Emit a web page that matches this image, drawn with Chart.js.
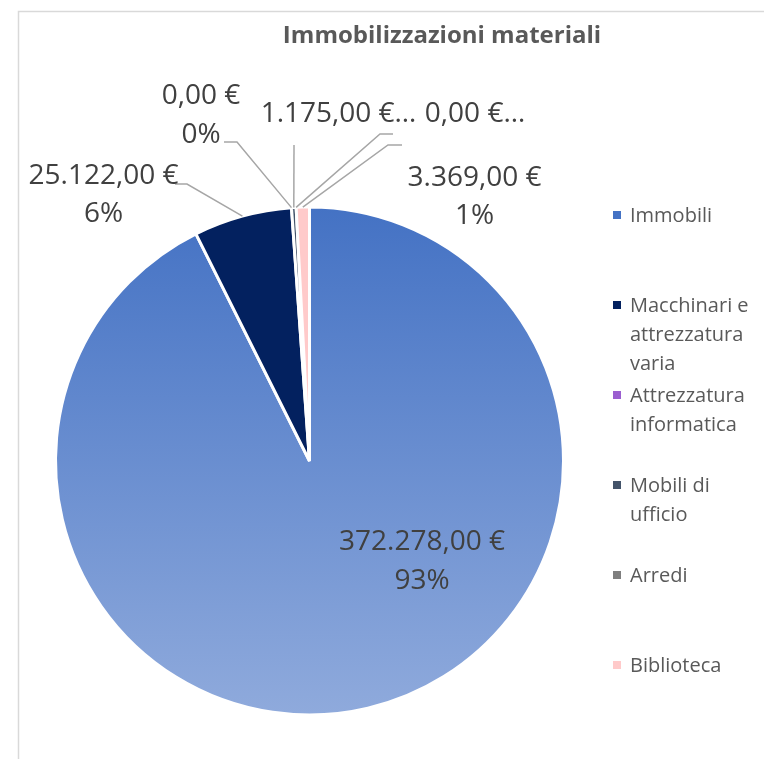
<!DOCTYPE html>
<html lang="it">
<head>
<meta charset="utf-8">
<title>Immobilizzazioni materiali</title>
<script src="https://cdn.jsdelivr.net/npm/chart.js@4.4.1/dist/chart.umd.min.js"></script>
<style>
  html, body { margin: 0; padding: 0; background: #fff; }
  #wrap { position: relative; width: 764px; height: 759px; }
</style>
</head>
<body>
<div id="wrap"><canvas id="grafico"></canvas></div>
<script>
// Dati del grafico
const titolo = 'Immobilizzazioni materiali';
const categorie = ['Immobili', 'Macchinari e attrezzatura varia', 'Attrezzatura informatica', 'Mobili di ufficio', 'Arredi', 'Biblioteca'];
const valori = [372278, 25122, 0, 1175, 0, 3369];
const colori = ['#4472C4', '#03215F', '#9B5FD0', '#44546A', '#7F7F7F', '#FFCACA'];

// Posizione delle etichette (offset dal centro della torta) e linee guida
const posEtichette = [
    { x: 112.5, y: [89, 128], guida: null },
    { x: -206, y: [-277, -239], guida: [[-134.5, -277], [-122.5, -277]] },
    { x: -108.5, y: [-357, -318], guida: [[-85.5, -319], [-72.5, -319]] },
    { x: 29, y: [-339], guida: [[-15.5, -316]], tronca: true },
    { x: 165.5, y: [-339], guida: [[83.5, -327], [70.5, -327]], tronca: true },
    { x: 165, y: [-275, -237], guida: [[92.5, -316], [78.5, -316]] }
];

const totale = valori.reduce((a, b) => a + b, 0);

// Formatta il numero all'italiana: 372.278,00 €
function euro(v) {
    const parti = v.toFixed(2).split('.');
    return parti[0].replace(/\B(?=(\d{3})+(?!\d))/g, '.') + ',' + parti[1] + ' €';
}

function percentuale(v) {
    return Math.round(v / totale * 100) + '%';
}

// Spezza il testo della legenda su più righe
function aCapo(ctx, testo, larghezza) {
    const parole = testo.split(' ');
    const righe = [];
    let riga = '';
    parole.forEach(p => {
        const prova = riga ? riga + ' ' + p : p;
        if (riga && ctx.measureText(prova).width > larghezza) {
            righe.push(riga);
            riga = p;
        } else {
            riga = prova;
        }
    });
    if (riga) righe.push(riga);
    return righe;
}

// Plugin per cornice, titolo, etichette e legenda
const decorazioni = {
    id: 'decorazioni',
    beforeDraw(chart) {
        const ctx = chart.ctx;
        ctx.save();
        ctx.strokeStyle = '#D9D9D9';
        ctx.lineWidth = 1.5;
        ctx.beginPath();
        ctx.moveTo(18.5, 759);
        ctx.lineTo(18.5, 11.5);
        ctx.lineTo(764, 11.5);
        ctx.stroke();
        ctx.restore();
    },
    afterDraw(chart) {
        const ctx = chart.ctx;
        const meta = chart.getDatasetMeta(0);
        ctx.save();

        // Titolo
        ctx.fillStyle = '#595959';
        ctx.font = 'bold 24px "Open Sans"';
        ctx.textAlign = 'center';
        ctx.textBaseline = 'alphabetic';
        ctx.fillText(titolo, 442, 43);

        // Etichette dati
        meta.data.forEach((arco, i) => {
            const p = arco.getProps(['x', 'y', 'startAngle', 'endAngle', 'outerRadius'], true);
            const pos = posEtichette[i];
            const cx = p.x, cy = p.y;
            if (pos.guida) {
                const medio = (p.startAngle + p.endAngle) / 2;
                ctx.strokeStyle = '#A6A6A6';
                ctx.lineWidth = 1.5;
                ctx.beginPath();
                pos.guida.forEach((pt, k) => {
                    if (k === 0) ctx.moveTo(cx + pt[0], cy + pt[1]);
                    else ctx.lineTo(cx + pt[0], cy + pt[1]);
                });
                ctx.lineTo(cx + Math.cos(medio) * p.outerRadius, cy + Math.sin(medio) * p.outerRadius);
                ctx.stroke();
            }
            let righe = [euro(valori[i]), percentuale(valori[i])];
            if (pos.tronca) righe = [righe[0] + '…'];
            ctx.fillStyle = '#404040';
            ctx.font = '28px "Open Sans"';
            ctx.textAlign = 'center';
            righe.forEach((t, k) => ctx.fillText(t, cx + pos.x, cy + pos.y[k]));
        });

        // Legenda
        ctx.font = '20px "Open Sans"';
        ctx.textAlign = 'left';
        categorie.forEach((nome, i) => {
            const y0 = 215 + i * 90;
            ctx.fillStyle = colori[i];
            ctx.fillRect(613, y0 - 4, 8, 8);
            ctx.fillStyle = '#595959';
            aCapo(ctx, nome, 128).forEach((r, k) => {
                ctx.fillText(r, 630, y0 + 7 + k * 29);
            });
        });
        ctx.restore();
    }
};

// Sfumatura per la fetta principale
function sfondo(context) {
    const i = context.dataIndex;
    const chart = context.chart;
    if (i !== 0 || !chart.chartArea) return colori[i];
    const area = chart.chartArea;
    const cy = (area.top + area.bottom) / 2;
    const g = chart.ctx.createLinearGradient(0, cy - 253, 0, cy + 253);
    g.addColorStop(0, '#4472C4');
    g.addColorStop(1, '#8FAADC');
    return g;
}

const config = {
    type: 'pie',
    data: {
        labels: categorie,
        datasets: [{
            data: valori,
            backgroundColor: sfondo,
            borderColor: '#FFFFFF',
            borderWidth: 3
        }]
    },
    options: {
        responsive: true,
        maintainAspectRatio: false,
        animation: false,
        radius: 254,
        layout: { padding: { left: 50, right: 195, top: 200, bottom: 37 } },
        plugins: {
            legend: { display: false },
            title: { display: false },
            tooltip: { enabled: false }
        }
    },
    plugins: [decorazioni]
};

window.onload = function() {
    new Chart(document.getElementById('grafico').getContext('2d'), config);
};
</script>
</body>
</html>
